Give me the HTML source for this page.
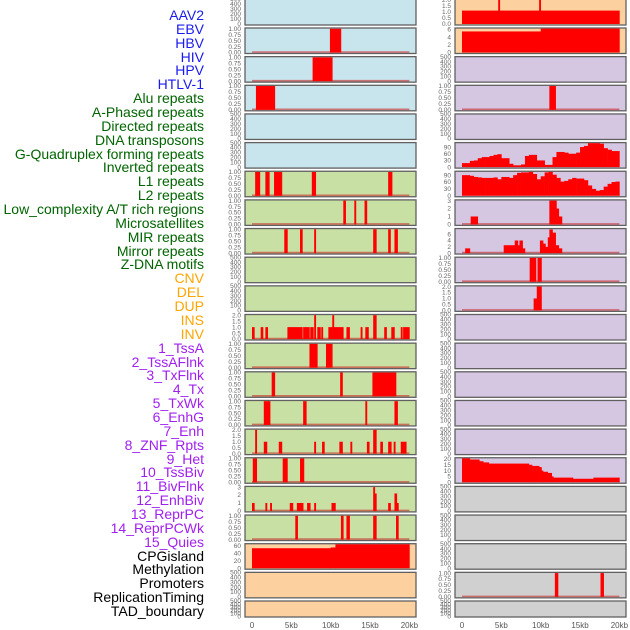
<!DOCTYPE html>
<html><head><meta charset="utf-8">
<style>
html,body{margin:0;padding:0;background:#fff;width:630px;height:630px;overflow:hidden}
#labels{position:absolute;left:0;top:0;width:204px;height:630px}
.lb{position:absolute;right:0;font-family:"Liberation Sans","DejaVu Sans",sans-serif;font-size:14px;line-height:14px;white-space:nowrap}
svg{position:absolute;left:0;top:0}
</style></head><body>
<div id="labels"></div>
<svg id="chart" width="630" height="630"></svg>
<script>
const labelNames = ["AAV2","EBV","HBV","HIV","HPV","HTLV-1","Alu repeats","A-Phased repeats","Directed repeats","DNA transposons","G-Quadruplex forming repeats","Inverted repeats","L1 repeats","L2 repeats","Low_complexity A/T rich regions","Microsatellites","MIR repeats","Mirror repeats","Z-DNA motifs","CNV","DEL","DUP","INS","INV","1_TssA","2_TssAFlnk","3_TxFlnk","4_Tx","5_TxWk","6_EnhG","7_Enh","8_ZNF_Rpts","9_Het","10_TssBiv","11_BivFlnk","12_EnhBiv","13_ReprPC","14_ReprPCWk","15_Quies","CPGisland","Methylation","Promoters","ReplicationTiming","TAD_boundary"];
const labelGroups = ["v","v","v","v","v","v","r","r","r","r","r","r","r","r","r","r","r","r","r","s","s","s","s","s","c","c","c","c","c","c","c","c","c","c","c","c","c","c","c","o","o","o","o","o"];
const xTickLabels = ["0","5kb","10kb","15kb","20kb"];
const xTickValues = [0,5,10,15,20];

// left column row backgrounds / right column
const bgLeft = ["b","b","b","b","b","b","g","g","g","g","g","g","g","g","g","g","g","g","g","p","p","p"];
const bgRight = ["p","p","u","u","u","u","u","u","u","u","u","u","u","u","u","u","u","y","y","y","y","y"];

// segments [startKb, endKb, value]
const hivBars = [[9.9,11.3,1]];
const hpvBars = [[7.7,10.2,1]];
const htlvBars = [[0.5,2.9,1]];
const l1Bars = [[0.4,1.0,1],[1.7,2.2,1],[2.8,3.8,1],[7.6,8.1,1],[17.3,17.8,1]];
const lowCompBars = [[11.6,11.9,1],[13.0,13.2,1],[14.3,14.6,1]];
const mirBars = [[4.1,4.5,1],[6.1,6.4,1],[7.9,8.1,1],[15.4,15.8,1],[17.3,17.6,1],[18.1,18.5,1]];
const insBars = [[0,0.3,1],[1.1,1.4,1],[1.7,2.0,1],[4.5,6.4,1],[6.5,7.3,1],[7.4,7.8,1],[7.9,8.1,2],[8.3,8.7,1],[8.8,9.0,1],[9.7,11.6,1],[10.2,10.4,2],[12.0,12.4,1],[13.8,14.0,1],[14.4,14.8,1],[15.4,15.8,2],[16.8,17.1,1],[17.7,18.1,1],[18.9,19.1,1],[19.2,20.0,1]];
const tssaBars = [[7.3,8.3,1],[9.4,10.2,1]];
const txflnkBars = [[2.5,2.9,1],[11.2,11.5,1],[15.3,18.3,1]];
const txwkBars = [[1.5,2.3,1],[6.5,6.9,1],[14.4,14.6,1],[18.1,18.5,1]];
const enhBars = [[0.4,0.6,2],[1.5,1.9,1],[3.4,3.8,1],[7.9,8.1,1],[8.9,9.2,1],[11.1,11.5,1],[12.5,12.7,1],[14.6,14.9,1],[15.4,15.8,2],[16.3,16.6,1],[17.3,17.7,1],[18.0,18.2,1],[18.9,19.6,1]];
const znfBars = [[0.1,0.6,1],[3.9,4.5,1],[6.1,6.6,1]];
const hetBars = [[0,0.3,1],[1.7,1.9,1],[2.3,2.5,1],[4.8,5.2,1],[5.7,6.5,1],[7.0,7.4,1],[7.9,8.1,1],[10.1,10.6,1],[15.4,15.6,3],[15.6,15.8,2.2],[17.3,17.6,1],[18.1,18.4,2.2],[18.4,18.5,1]];
const enhBivBars = [[5.5,5.8,1],[11.3,11.6,1],[12.0,12.4,1],[15.4,15.8,1],[18.3,18.6,1]];
const cpgBars = [[0,10,53],[10,10.6,55],[10.6,20,64]];
const aavBars = [[0,20,1.1],[4.6,4.8,2],[9.8,10.0,2]];
const ebvBars = [[0,10,5.5],[10,20,6.3]];
const aluBars = [[11.1,11.9,1]];
const gquadBins = [18,18,28,30,40,45,45,50,55,58,40,40,15,8,8,12,50,55,55,30,30,10,10,45,68,68,65,60,60,65,90,95,110,110,110,105,85,78,72,72];
const invBins = [90,90,87,82,80,78,78,78,80,72,82,82,78,90,100,102,102,105,95,72,85,102,105,92,78,62,65,72,78,75,75,68,45,30,22,25,40,52,60,62];
const l2Bars = [[1.1,2.0,1],[11.1,12.0,3],[12.0,12.3,2],[12.3,12.7,1]];
const microBars = [[0.4,1.0,1.5],[5.3,5.9,2.5],[5.9,6.7,2.5],[6.7,7.1,4],[7.1,7.3,2.5],[7.3,7.7,4],[7.7,8.0,1.5],[9.9,10.3,4],[10.3,10.6,3],[10.6,10.9,2],[10.9,11.1,5],[11.1,11.5,7.5],[11.5,11.9,6.5],[11.9,12.3,2.5],[12.3,12.7,1.5]];
const zdnaBars = [[8.6,9.4,1],[9.6,10.1,1]];
const cnvBars = [[9.1,9.5,1],[9.5,10.1,2]];
const het9Steps = [[0,1,20.5],[1,2.2,19.5],[2.2,2.7,18],[2.7,3.4,17],[3.4,8.5,16],[8.5,8.9,15],[8.9,9.8,14],[9.8,10.1,13],[10.1,10.3,10],[10.3,10.9,9],[10.9,11.4,8],[11.4,11.6,5],[11.6,14.1,4],[14.1,16.7,3],[16.7,20,4]];
const promoterBars = [[11.8,12.2,1],[17.6,18.0,1]];

const T01 = ["0.00","0.25","0.50","0.75","1.00"];
const T02 = ["0.0","0.5","1.0","1.5","2.0"];
const T500 = ["0","100","200","300","400","500"];

// panels: [col,row,bars,tickLabels,tickMax,hi,baseline]
const panels = [
 [0,0,[],T500,500,500,false],[0,1,hivBars,T01,1,1.03,true],[0,2,hpvBars,T01,1,1.03,true],[0,3,htlvBars,T01,1,1.03,true],
 [0,4,[],T500,500,500,false],[0,5,[],T500,500,500,false],[0,6,l1Bars,T01,1,1.03,true],[0,7,lowCompBars,T01,1,1.03,true],
 [0,8,mirBars,T01,1,1.03,true],[0,9,[],T500,500,500,false],[0,10,[],T500,500,500,false],[0,11,insBars,T02,2,2.06,true],
 [0,12,tssaBars,T01,1,1.03,true],[0,13,txflnkBars,T01,1,1.03,true],[0,14,txwkBars,T01,1,1.03,true],[0,15,enhBars,T02,2,2.06,true],
 [0,16,znfBars,T01,1,1.03,true],[0,17,hetBars,["0","1","2","3"],3,3.09,true],[0,18,enhBivBars,T01,1,1.03,true],
 [0,19,cpgBars,["0","20","40","60"],60,65,false],[0,20,[],T500,500,500,false],[0,21,[],T500,500,500,false],
 [1,0,aavBars,T02,2,2.05,false],[1,1,ebvBars,["0","2","4","6"],6,6.4,false],[1,2,[],T500,500,500,false],[1,3,aluBars,T01,1,1.03,true],
 [1,4,[],T500,500,500,false],[1,5,"gq",["0","30","60","90"],90,110,false],[1,6,"inv",["0","30","60","90"],90,107,false],
 [1,7,l2Bars,["0","1","2","3"],3,3.09,true],[1,8,microBars,["0","2","4","6"],6,7.8,true],[1,9,zdnaBars,T01,1,1.03,true],
 [1,10,cnvBars,T02,2,2.06,true],[1,11,[],T500,500,500,false],[1,12,[],T500,500,500,false],[1,13,[],T500,500,500,false],
 [1,14,[],T500,500,500,false],[1,15,[],T500,500,500,false],[1,16,het9Steps,["0","5","10","15","20"],20,21,false],
 [1,17,[],T500,500,500,false],[1,18,[],T500,500,500,false],[1,19,[],T500,500,500,false],[1,20,promoterBars,T01,1,1.03,true],[1,21,[],T500,500,500,false]
];

const colors = {v:"#1a1aee",r:"#006400",s:"#ffa500",c:"#a020f0",o:"#000"};
const bgs = {b:"#c8e4ec",g:"#c8e0a4",p:"#fdd09f",u:"#d5c6e2",y:"#d0d0d0"};
const NS = "http://www.w3.org/2000/svg";
const svg = document.getElementById('chart');
const lbDiv = document.getElementById('labels');

labelNames.forEach((n,i)=>{
  const d=document.createElement('div');
  d.className='lb';
  d.textContent=n;
  d.style.top=(8+i*13.86)+'px';
  d.style.color=colors[labelGroups[i]];
  
  
  lbDiv.appendChild(d);
});

const colX=[245,455];
const colW=171;
function rowTop(r){return r===0?-1:28+(r-1)*28.65;}
function rowH(r){return r===0?26:(r===21?16:25.5);}
function xScale(col,kb){return colX[col]+7+kb*7.87;}
function mk(tag,attrs){const e=document.createElementNS(NS,tag);for(const k in attrs)e.setAttribute(k,attrs[k]);return e;}

panels.forEach(p=>{
  const [col,row,barsRaw,ticks,tmax,hi,base]=p;
  const T=rowTop(row),H=rowH(row),lo=-0.04*hi;
  const yS=v=>T+H-(v-lo)/(hi-lo)*H;
  const g=mk('g',{});
  
  
  const bgKey=(col===0?bgLeft:bgRight)[row];
  const rect=mk('rect',{x:colX[col],y:T,width:colW,height:H,fill:bgs[bgKey],stroke:"#606060","stroke-width":1.3});
  
  
  g.appendChild(rect);
  if(base){
    const bl=mk('line',{x1:xScale(col,0),x2:xScale(col,20),y1:yS(0)-0.5,y2:yS(0)-0.5,stroke:"rgba(200,40,40,0.6)","stroke-width":1.6});
    
    
    g.appendChild(bl);
  }
  let bars=barsRaw;
  if(barsRaw==="gq") bars=gquadBins.map((v,i)=>[i*0.5,i*0.5+0.5,v]);
  if(barsRaw==="inv") bars=invBins.map((v,i)=>[i*0.5,i*0.5+0.5,v]);
  bars.forEach(b=>{
    const x1=xScale(col,b[0]),x2=xScale(col,b[1]);
    const w=Math.max(x2-x1,1.6);
    const y1=Math.max(yS(b[2]),T+0.6);
    const r=mk('rect',{x:x1,y:y1,width:w+0.3,height:yS(0)-y1,fill:"#ff0000"});
    
    
    g.appendChild(r);
  });
  ticks.forEach((t,i)=>{
    const v=tmax*i/(ticks.length-1);
    const tx=mk('text',{x:colX[col]-4,y:yS(v)+2.2,"text-anchor":"end","font-size":6.5,fill:"#666","font-family":"Liberation Sans, DejaVu Sans, sans-serif"});
    tx.textContent=t;
    
    
    g.appendChild(tx);
  });
  svg.appendChild(g);
});

[0,1].forEach(col=>{
  xTickValues.forEach((v,i)=>{
    const t=mk('text',{x:xScale(col,v),y:628,"text-anchor":"middle","font-size":8,fill:"#555","font-family":"Liberation Sans, DejaVu Sans, sans-serif"});
    t.textContent=xTickLabels[i];
    
    
    svg.appendChild(t);
  });
});
</script>
</body></html>
